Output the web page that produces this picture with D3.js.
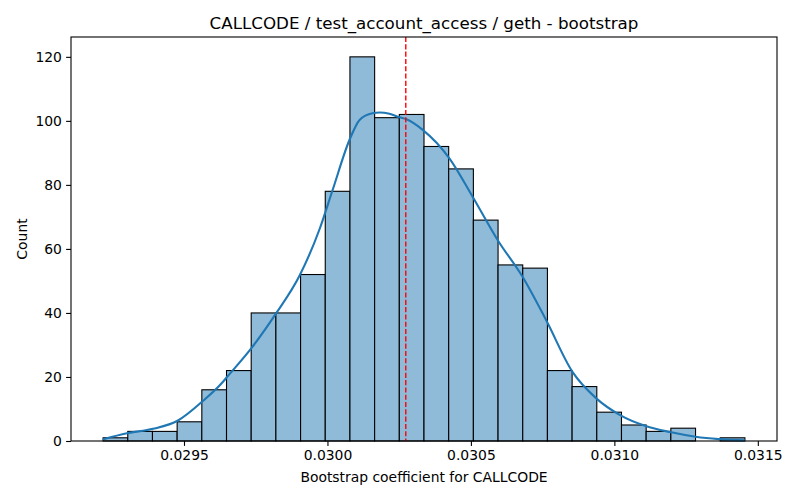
<!DOCTYPE html>
<html>
<head>
<meta charset="utf-8">
<style>
  body { margin: 0; background: #fff; }
  svg text { font-family: "DejaVu Sans", sans-serif; fill: #000; }
</style>
</head>
<body>
<svg id="chart" width="800" height="500"></svg>
<script src="https://d3js.org/d3.v7.min.js"></script>
<script>
// histogram: 26 equal bins between the sample min and max
var binStart = 0.029218
var binEnd = 0.031455
var counts = [1, 3, 3, 6, 16, 22, 40, 40, 52, 78, 120, 101, 102,
              92, 85, 69, 55, 54, 22, 17, 9, 5, 3, 4, 0, 1]

// kde curve (in count units)
var kdeX = [0.029217, 0.029301, 0.029392, 0.029479, 0.029566, 0.029632, 0.029650,
            0.029735, 0.029822, 0.029903, 0.029973, 0.030018, 0.030077, 0.030112,
            0.030157, 0.030182, 0.030216, 0.030251, 0.030275, 0.030332, 0.030425,
            0.030506, 0.030593, 0.030680, 0.030762, 0.030854, 0.030936, 0.031020,
            0.031109, 0.031194, 0.031283, 0.031364, 0.031454]
var kdeY = [0.5, 2.4, 3.8, 6.4, 12.5, 18.1, 20.0,
            29.0, 40.0, 51.7, 66.3, 78.4, 94.1, 100.3,
            102.4, 102.6, 102.2, 101.1, 100.5, 97.2, 88.3,
            76.3, 62.8, 51.3, 37.8, 21.6, 13.4, 8.1,
            4.7, 2.8, 1.35, 0.6, 0.2]

var meanValue = 0.030273
var xTicks = [0.0295, 0.0300, 0.0305, 0.0310, 0.0315]
var yTicks = [0, 20, 40, 60, 80, 100, 120]

// plot box (note: "top" is a reserved window global, so use box.*)
var box = { left: 71, right: 777, top: 37, bottom: 441 }
var svg = d3.select("#chart")

var pad = (binEnd - binStart) * 0.05
var x = d3.scaleLinear().domain([binStart - pad, binEnd + pad]).range([box.left, box.right])
var y = d3.scaleLinear().domain([0, 126.2]).range([box.bottom, box.top])

var binW = (binEnd - binStart) / counts.length
var bins = counts.map(function(c, i) {
    return { x0: binStart + i * binW, x1: binStart + (i + 1) * binW, n: c }
})

svg.append("g").selectAll("rect").data(bins).enter().append("rect")
    .attr("x", function(d) { return x(d.x0) })
    .attr("width", function(d) { return x(d.x1) - x(d.x0) })
    .attr("y", function(d) { return y(d.n) })
    .attr("height", function(d) { return y(0) - y(d.n) })
    .attr("fill", "#8fbbd9")
    .attr("stroke", function(d) { return d.n > 0 ? "#000" : "none" })
    .attr("stroke-width", 1.1)

var line = d3.line()
    .x(function(d) { return x(d[0]) })
    .y(function(d) { return y(d[1]) })
    .curve(d3.curveMonotoneX)

svg.append("path")
    .datum(kdeX.map(function(v, i) { return [v, kdeY[i]] }))
    .attr("d", line)
    .attr("fill", "none")
    .attr("stroke", "#1f77b4")
    .attr("stroke-width", 2.1)

svg.append("line")
    .attr("x1", x(meanValue)).attr("x2", x(meanValue))
    .attr("y1", box.top).attr("y2", box.bottom)
    .attr("stroke", "#ff0000")
    .attr("stroke-width", 1.4)
    .attr("stroke-dasharray", "5.1,2.2")

// axes
var xAxis = d3.axisBottom(x).tickValues(xTicks).tickFormat(d3.format(".4f"))
    .tickSize(4.9).tickPadding(4.6).tickSizeOuter(0)
var yAxis = d3.axisLeft(y).tickValues(yTicks)
    .tickSize(4.9).tickPadding(4.2).tickSizeOuter(0)

var gx = svg.append("g").attr("transform", "translate(0," + box.bottom + ")").call(xAxis)
var gy = svg.append("g").attr("transform", "translate(" + box.left + ",0)").call(yAxis)
;[gx, gy].forEach(function(g) {
    g.select(".domain").remove()
    g.selectAll("line").attr("stroke", "#000").attr("stroke-width", 1.1)
    g.selectAll("text").attr("font-size", "13.9px").attr("fill", "#000")
        .style("font-family", "DejaVu Sans, sans-serif")
})

svg.append("rect")
    .attr("x", box.left).attr("y", box.top)
    .attr("width", box.right - box.left).attr("height", box.bottom - box.top)
    .attr("fill", "none").attr("stroke", "#000").attr("stroke-width", 1.1)

svg.append("text")
    .attr("x", (box.left + box.right) / 2).attr("y", 29)
    .attr("text-anchor", "middle").attr("font-size", "16.7px")
    .text("CALLCODE / test_account_access / geth - bootstrap")

svg.append("text")
    .attr("x", (box.left + box.right) / 2).attr("y", 482)
    .attr("text-anchor", "middle").attr("font-size", "13.9px")
    .text("Bootstrap coefficient for CALLCODE")

svg.append("text")
    .attr("transform", "translate(27," + (box.top + box.bottom) / 2 + ") rotate(-90)")
    .attr("text-anchor", "middle").attr("font-size", "13.9px")
    .text("Count")
</script>
</body>
</html>
